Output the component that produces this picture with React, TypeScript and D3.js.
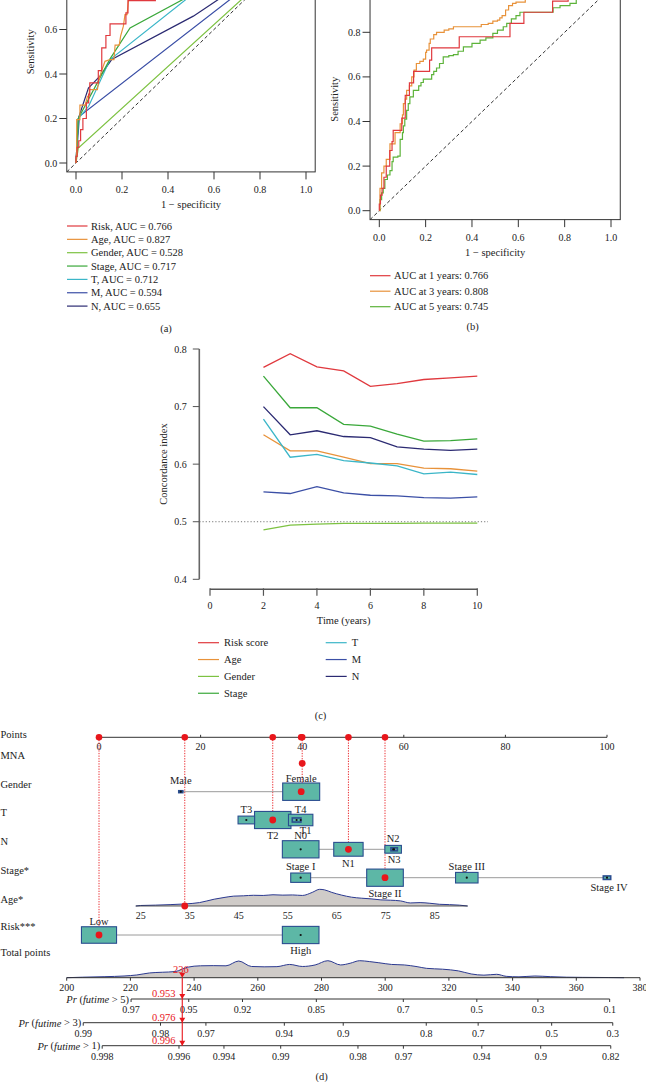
import React from 'react';
import * as d3 from 'd3';

const FONT = '"Liberation Serif", "Times New Roman", serif';

// ---------------- Panel (a): ROC by variable ----------------
const aNames = ['Risk', 'Age', 'Gender', 'Stage', 'T', 'M', 'N'];
const aAUC = [0.766, 0.827, 0.528, 0.717, 0.712, 0.594, 0.655];
const rocRisk = [[0,0],[0,0.03],[0.005,0.03],[0.005,0.07],[0.012,0.07],[0.012,0.1],[0.02,0.1],[0.02,0.15],[0.03,0.15],[0.03,0.2],[0.045,0.2],[0.045,0.27],[0.055,0.27],[0.055,0.31],[0.06,0.31],[0.06,0.36],[0.097,0.36],[0.097,0.415],[0.112,0.415],[0.112,0.517],[0.13,0.517],[0.13,0.573],[0.148,0.573],[0.148,0.625],[0.217,0.625],[0.217,0.675],[0.226,0.675],[0.226,0.73],[0.345,0.73],[0.345,0.78],[0.564,0.78],[0.564,0.84],[0.624,0.84],[0.624,0.89],[0.748,0.89],[0.748,0.94],[0.815,0.94],[0.815,0.97],[0.9,0.97],[0.9,1],[1,1]];
const rocAge = [[0,0],[0.003,0.05],[0.003,0.195],[0.017,0.195],[0.017,0.26],[0.04,0.26],[0.05,0.3],[0.058,0.3],[0.058,0.33],[0.093,0.33],[0.1,0.375],[0.11,0.41],[0.126,0.457],[0.148,0.465],[0.165,0.465],[0.17,0.53],[0.188,0.53],[0.194,0.57],[0.206,0.615],[0.213,0.667],[0.222,0.667],[0.228,0.73],[0.24,0.76],[0.27,0.8],[0.33,0.84],[0.42,0.88],[0.55,0.93],[0.7,0.97],[0.85,0.99],[1,1]];
const rocGender = [[0,0],[0.01,0.067],[0.72,0.735],[1,1]];
const rocStage = [[0,0],[0.01,0.2],[0.148,0.468],[0.235,0.607],[0.465,0.735],[0.75,0.89],[1,1]];
const rocT = [[0,0],[0.01,0.2],[0.055,0.255],[0.148,0.465],[0.478,0.735],[0.8,0.9],[1,1]];
const rocM = [[0,0],[0.015,0.21],[0.67,0.735],[1,1]];
const rocN = [[0,0],[0.01,0.2],[0.054,0.337],[0.104,0.39],[0.155,0.465],[0.51,0.66],[0.619,0.735],[1,1]];

// ---------------- Panel (b): time-dependent ROC ----------------
const bYears = [1, 3, 5];
const bAUC = [0.766, 0.808, 0.745];
const roc1y = rocRisk;
const roc3y = [[0,0],[0.003,0.05],[0.003,0.1],[0.01,0.1],[0.01,0.17],[0.02,0.17],[0.02,0.2],[0.03,0.2],[0.03,0.23],[0.04,0.23],[0.046,0.3],[0.06,0.3],[0.068,0.35],[0.08,0.35],[0.09,0.39],[0.1,0.43],[0.104,0.48],[0.112,0.5],[0.118,0.54],[0.13,0.56],[0.14,0.6],[0.15,0.63],[0.16,0.66],[0.175,0.67],[0.19,0.68],[0.2,0.71],[0.204,0.72],[0.215,0.75],[0.22,0.77],[0.235,0.79],[0.247,0.8],[0.27,0.8],[0.28,0.81],[0.3,0.815],[0.32,0.825],[0.435,0.825],[0.44,0.835],[0.47,0.84],[0.49,0.85],[0.51,0.855],[0.52,0.865],[0.53,0.875],[0.545,0.9],[0.558,0.92],[0.575,0.93],[0.59,0.935],[0.63,0.95],[0.7,0.96],[0.8,0.97],[0.9,0.99],[1,1]];
const roc5y = [[0,0],[0.003,0.05],[0.01,0.08],[0.017,0.1],[0.024,0.14],[0.035,0.16],[0.046,0.18],[0.055,0.22],[0.06,0.24],[0.08,0.245],[0.09,0.32],[0.1,0.35],[0.104,0.38],[0.11,0.41],[0.118,0.45],[0.125,0.48],[0.132,0.51],[0.147,0.54],[0.17,0.56],[0.18,0.575],[0.19,0.59],[0.226,0.61],[0.235,0.625],[0.247,0.64],[0.26,0.66],[0.276,0.69],[0.3,0.695],[0.32,0.7],[0.34,0.715],[0.363,0.735],[0.4,0.75],[0.435,0.765],[0.46,0.775],[0.49,0.795],[0.51,0.81],[0.535,0.825],[0.55,0.84],[0.57,0.86],[0.59,0.875],[0.607,0.89],[0.744,0.89],[0.75,0.91],[0.78,0.92],[0.823,0.93],[0.85,0.95],[0.9,0.97],[0.95,0.99],[1,1]];

const rocTicks = [0, 0.2, 0.4, 0.6, 0.8, 1.0];

// ---------------- Panel (c): C-index over time ----------------
const cTimes = [2, 3, 4, 5, 6, 7, 8, 9, 10];
const cNames = ['Risk score', 'Age', 'Gender', 'Stage', 'T', 'M', 'N'];
const cRisk = [0.768, 0.792, 0.769, 0.762, 0.735, 0.740, 0.747, 0.750, 0.753];
const cAge = [0.651, 0.623, 0.623, 0.612, 0.601, 0.601, 0.593, 0.592, 0.588];
const cGender = [0.486, 0.494, 0.496, 0.497, 0.497, 0.4972, 0.4975, 0.4975, 0.4977];
const cStage = [0.753, 0.698, 0.698, 0.669, 0.666, 0.652, 0.640, 0.641, 0.644];
const cT = [0.678, 0.612, 0.617, 0.606, 0.602, 0.597, 0.583, 0.586, 0.582];
const cM = [0.552, 0.549, 0.561, 0.550, 0.546, 0.545, 0.542, 0.541, 0.543];
const cN = [0.700, 0.651, 0.658, 0.648, 0.646, 0.630, 0.626, 0.624, 0.626];
const cXTicks = [0, 2, 4, 6, 8, 10];
const cYTicks = [0.4, 0.5, 0.6, 0.7, 0.8];

// ---------------- Panel (d): nomogram ----------------
const pointsTicks = [0, 20, 40, 60, 80, 100];
const genderLevels = [{ label: 'Male', pts: 16.1, f: 0.012 }, { label: 'Female', pts: 39.8, f: 1 }];
const tLevels = [{ label: 'T3', pts: 29, f: 0.2 }, { label: 'T2', pts: 34.2, f: 0.97 }, { label: 'T4', pts: 39.7, f: 0.435 }, { label: 'T1', pts: 38.9, f: 0.055 }];
const nLevels = [{ label: 'N0', pts: 39.7, f: 0.98 }, { label: 'N1', pts: 49.1, f: 0.63 }, { label: 'N2', pts: 57.9, f: 0.2 }, { label: 'N3', pts: 58.1, f: 0.03 }];
const stageLevels = [{ label: 'Stage I', pts: 39.7, f: 0.29 }, { label: 'Stage II', pts: 56.3, f: 0.98 }, { label: 'Stage III', pts: 72.4, f: 0.37 }, { label: 'Stage IV', pts: 100, f: 0.04 }];
const riskLevels = [{ label: 'Low', pts: 0, f: 0.9 }, { label: 'High', pts: 39.7, f: 0.98 }];
const ageTicks = [25, 35, 45, 55, 65, 75, 85];
const agePtsAt25 = 8.2;
const agePtsAt85 = 66.1;
const ageDensAge = [24, 25, 28, 31, 34, 37, 40, 42, 44, 46, 48, 50, 52, 54, 56, 58, 60, 61.5, 62.5, 64, 66, 68, 70, 72, 74, 76, 78, 80, 82, 84, 86, 88, 90, 91.7];
const ageDensVal = [0, 0.03, 0.05, 0.08, 0.12, 0.2, 0.4, 0.5, 0.58, 0.6, 0.63, 0.62, 0.66, 0.64, 0.65, 0.62, 0.8, 0.98, 0.95, 0.8, 0.64, 0.52, 0.46, 0.42, 0.36, 0.34, 0.3, 0.18, 0.2, 0.16, 0.1, 0.08, 0.05, 0];
const totalTicks = [200, 220, 240, 260, 280, 300, 320, 340, 360, 380];
const totDensPts = [200, 205, 212, 218, 222, 226, 230, 234, 238, 242, 246, 250, 254, 258, 262, 266, 270, 274, 278, 282, 286, 289, 292, 295, 298, 302, 306, 310, 313, 318, 323, 327, 331, 335, 338, 342, 347, 352, 357, 362, 370, 375];
const totDensVal = [0, 0.03, 0.06, 0.1, 0.16, 0.28, 0.32, 0.36, 0.62, 0.7, 0.71, 0.7, 0.98, 0.66, 0.64, 0.65, 0.78, 0.66, 0.75, 1.0, 0.75, 0.85, 1.0, 0.95, 0.88, 0.78, 0.75, 0.65, 0.55, 0.5, 0.4, 0.22, 0.15, 0.2, 0.08, 0.05, 0.1, 0.06, 0.03, 0.02, 0.01, 0];
// survival model: Pr(T > t) = exp(-exp((points - center_t) / scale))
const survYears = [5, 3, 1];
const survCenter = [341.5, 365, 427];
const survScale = 34.74;
const probTicks5 = [0.97, 0.95, 0.92, 0.85, 0.7, 0.5, 0.3, 0.1];
const probTicks3 = [0.99, 0.98, 0.97, 0.94, 0.9, 0.8, 0.7, 0.5, 0.3];
const probTicks1 = [0.998, 0.996, 0.994, 0.99, 0.98, 0.97, 0.94, 0.9, 0.82];
const selected = { mna: 40, gender: 'Female', t: 'T2', n: 'N1', stage: 'Stage II', age: 34, risk: 'Low' };

// ---------------- styles ----------------
const aColors = ['#e0393e', '#e8923a', '#7dc242', '#3aa83a', '#3bb6c8', '#3b4fa6', '#2b2a72'];
const bColors = ['#e0393e', '#e8923a', '#5db33a'];
const RED = '#e8161b';
const BOX_FILL = '#5db7a6';
const BOX_STROKE = '#2a4d8f';

type Pt = number[];

function RocPanel(props: any) {
  const { x, y, curves, clipId, legendItems, legendColors, legX, legY0, legDy, tag, tagX, tagY } = props;
  const left = x(-0.04), right = x(1.04), top = y(1.04), bottom = y(-0.04);
  return (
    <g>
      <defs>
        <clipPath id={clipId}><rect x={left} y={top} width={right - left} height={bottom - top} /></clipPath>
      </defs>
      <g clipPath={`url(#${clipId})`}>
        <line x1={x(-0.04)} y1={y(-0.04)} x2={x(1.04)} y2={y(1.04)} stroke="#333" strokeDasharray="3.5,2.5" strokeWidth={1} />
        {curves.map((c: any, i: number) => {
          const gen = d3.line<Pt>().x(d => x(d[0])).y(d => y(d[1])).curve(c.curve || d3.curveLinear);
          return <path key={i} d={gen(c.data) || ''} fill="none" stroke={c.color} strokeWidth={1.2} />;
        })}
      </g>
      <rect x={left} y={top} width={right - left} height={bottom - top} fill="none" stroke="#333" strokeWidth={1} />
      {rocTicks.map(t => (
        <g key={'x' + t}>
          <line x1={x(t)} x2={x(t)} y1={bottom} y2={bottom + 7.5} stroke="#333" />
          <text x={x(t)} y={bottom + 17.4} textAnchor="middle" dominantBaseline="central" fontSize={10} fill="#222">{d3.format('.1f')(t)}</text>
        </g>
      ))}
      {rocTicks.filter(t => y(t) > 6).map(t => (
        <g key={'y' + t}>
          <line x1={left} x2={left - 7.5} y1={y(t)} y2={y(t)} stroke="#333" />
          <text x={left - 9.5} y={y(t)} textAnchor="end" dominantBaseline="central" fontSize={10} fill="#222">{d3.format('.1f')(t)}</text>
        </g>
      ))}
      <text x={(left + right) / 2} y={bottom + 33} textAnchor="middle" dominantBaseline="central" fontSize={10.5} fill="#222">1 − specificity</text>
      <text transform={`translate(${left - 36},${(top + bottom) / 2}) rotate(-90)`} textAnchor="middle" dominantBaseline="central" fontSize={10.5} fill="#222">Sensitivity</text>
      {legendItems.map((s: string, i: number) => (
        <g key={'l' + i}>
          <line x1={legX} x2={legX + 20.5} y1={legY0 + i * legDy} y2={legY0 + i * legDy} stroke={legendColors[i]} strokeWidth={1.2} />
          <text x={legX + 24} y={legY0 + i * legDy} dominantBaseline="central" fontSize={10.5} fill="#222">{s}</text>
        </g>
      ))}
      <text x={tagX} y={tagY} textAnchor="middle" dominantBaseline="central" fontSize={10.5} fill="#222">{tag}</text>
    </g>
  );
}

function CIndexPanel() {
  const x = d3.scaleLinear().domain([0, 10]).range([210, 477.3]);
  const y = d3.scaleLinear().domain([0.4, 0.8]).range([579.3, 349]);
  const series = [cRisk, cAge, cGender, cStage, cT, cM, cN];
  const gen = d3.line<number>().x((_, i) => x(cTimes[i])).y(d => y(d));
  const axisX = 199.3;
  const axisY = 589.3;
  return (
    <g>
      <line x1={axisX} x2={488} y1={y(0.5)} y2={y(0.5)} stroke="#777" strokeDasharray="1.2,2" strokeWidth={1} />
      {series.map((s, i) => (
        <path key={i} d={gen(s) || ''} fill="none" stroke={aColors[i]} strokeWidth={1.3} />
      ))}
      <line x1={axisX} x2={axisX} y1={y(0.4)} y2={y(0.8)} stroke="#666" strokeWidth={1.6} />
      {cYTicks.map(t => (
        <g key={t}>
          <line x1={axisX} x2={axisX - 6.5} y1={y(t)} y2={y(t)} stroke="#555" />
          <text x={axisX - 12.5} y={y(t)} textAnchor="end" dominantBaseline="central" fontSize={10} fill="#222">{d3.format('.1f')(t)}</text>
        </g>
      ))}
      <line x1={x(0)} x2={x(10)} y1={axisY} y2={axisY} stroke="#555" strokeWidth={1.6} />
      {cXTicks.map(t => (
        <g key={t}>
          <line x1={x(t)} x2={x(t)} y1={axisY - 1} y2={axisY + 6.5} stroke="#555" strokeWidth={1.2} />
          <text x={x(t)} y={axisY + 16.4} textAnchor="middle" dominantBaseline="central" fontSize={10} fill="#222">{t}</text>
        </g>
      ))}
      <text x={(x(0) + x(10)) / 2} y={620} textAnchor="middle" dominantBaseline="central" fontSize={10.5} fill="#222">Time (years)</text>
      <text transform={`translate(163,464) rotate(-90)`} textAnchor="middle" dominantBaseline="central" fontSize={10.5} fill="#222">Concordance index</text>
      {cNames.map((n, i) => {
        const col = i < 4 ? 0 : 1;
        const row = i < 4 ? i : i - 4;
        const lx = col === 0 ? 198 : 325.7;
        const ly = 642.7 + row * 16.85;
        return (
          <g key={n}>
            <line x1={lx} x2={lx + 21} y1={ly} y2={ly} stroke={aColors[i]} strokeWidth={1.2} />
            <text x={lx + 26} y={ly} dominantBaseline="central" fontSize={10.5} fill="#222">{n}</text>
          </g>
        );
      })}
      <text x={320.5} y={715} textAnchor="middle" dominantBaseline="central" fontSize={10.5} fill="#222">(c)</text>
    </g>
  );
}

function Nomogram() {
  const ptsX = d3.scaleLinear().domain([0, 100]).range([99, 607]);
  const totX = d3.scaleLinear().domain([200, 380]).range([66.7, 640]);
  const agePts = d3.scaleLinear().domain([25, 85]).range([agePtsAt25, agePtsAt85]);
  const bw = d3.scaleSqrt().domain([0, 1]).range([0, 37]);
  const bh = d3.scaleSqrt().domain([0, 1]).range([0, 17.4]);
  const densH = d3.scaleLinear().domain([0, 1]).range([0, 17]);

  const Y = { points: 737.3, mna: 763.3, gender: 791.7, t: 820, n: 849.3, stage: 877.7, age: 906, risk: 935, total: 977.7 };
  const probY = [999, 1022.7, 1045.7];
  const rowLabels = [
    { s: 'Points', y: 734 }, { s: 'MNA', y: 755.5 }, { s: 'Gender', y: 784 }, { s: 'T', y: 812.7 },
    { s: 'N', y: 841.7 }, { s: 'Stage*', y: 870.3 }, { s: 'Age*', y: 899 }, { s: 'Risk***', y: 926.7 },
    { s: 'Total points', y: 952.3 },
  ];
  const labelSide: Record<string, number> = { Male: -1, Female: -1, T3: -1, T2: 1, T4: -1, T1: 1, N0: -1, N1: 1, N2: -1, N3: 1, 'Stage I': -1, 'Stage II': 1, 'Stage III': -1, 'Stage IV': 1, Low: -1, High: 1 };
  const labelDx: Record<string, number> = { T1: 9, 'Stage IV': 2 };

  const catRows = [
    { key: 'gender', y: Y.gender, levels: genderLevels, sel: selected.gender },
    { key: 't', y: Y.t, levels: tLevels, sel: selected.t },
    { key: 'n', y: Y.n, levels: nLevels, sel: selected.n },
    { key: 'stage', y: Y.stage, levels: stageLevels, sel: selected.stage },
    { key: 'risk', y: Y.risk, levels: riskLevels, sel: selected.risk },
  ];

  const selPts: number[] = [selected.mna];
  catRows.forEach(r => { const l = r.levels.find(v => v.label === r.sel); if (l) selPts.push(l.pts); });
  const ageP = agePts(selected.age);
  selPts.push(ageP);
  const total = d3.sum(selPts);

  const guides = [
    { x: ptsX(selected.mna), y2: Y.gender },
    ...catRows.filter(r => r.key !== 'gender').map(r => ({ x: ptsX(r.levels.find(v => v.label === r.sel)!.pts), y2: r.y })),
    { x: ptsX(ageP), y2: Y.age },
  ];

  const ageArea = d3.area<number>().x((_, i) => ptsX(agePts(ageDensAge[i]))).y0(Y.age).y1(d => Y.age - densH(d)).curve(d3.curveMonotoneX);
  const ageLine = d3.line<number>().x((_, i) => ptsX(agePts(ageDensAge[i]))).y(d => Y.age - densH(d)).curve(d3.curveMonotoneX);
  const totArea = d3.area<number>().x((_, i) => totX(totDensPts[i])).y0(Y.total).y1(d => Y.total - densH(d)).curve(d3.curveMonotoneX);
  const totLine = d3.line<number>().x((_, i) => totX(totDensPts[i])).y(d => Y.total - densH(d)).curve(d3.curveMonotoneX);

  const probTickSets = [probTicks5, probTicks3, probTicks1];
  const probToPts = (p: number, k: number) => survCenter[k] + survScale * Math.log(-Math.log(p));
  const ptsToProb = (pts: number, k: number) => Math.exp(-Math.exp((pts - survCenter[k]) / survScale));
  const mx = totX(total);

  const tri = (cx: number, cy: number) => `M${cx - 3},${cy - 5}L${cx + 3},${cy - 5}L${cx},${cy}Z`;

  return (
    <g>
      {rowLabels.map(r => (
        <text key={r.s} x={0.5} y={r.y} dominantBaseline="central" fontSize={10.5} fill="#222">{r.s}</text>
      ))}
      <line x1={ptsX(0)} x2={ptsX(100)} y1={Y.points} y2={Y.points} stroke="#333" strokeWidth={1} />
      {pointsTicks.map(t => (
        <g key={t}>
          <line x1={ptsX(t)} x2={ptsX(t)} y1={Y.points} y2={Y.points - 2.5} stroke="#333" />
          <text x={ptsX(t)} y={Y.points + 9.4} textAnchor="middle" dominantBaseline="central" fontSize={10} fill="#222">{t}</text>
        </g>
      ))}
      {guides.map((g, i) => (
        <line key={i} x1={g.x} x2={g.x} y1={Y.points} y2={g.y2} stroke={RED} strokeWidth={0.9} strokeDasharray="1.3,1.3" />
      ))}
      <path d={ageArea(ageDensVal) || ''} fill="#cfcbc8" />
      <path d={ageLine(ageDensVal) || ''} fill="none" stroke="#2b3990" strokeWidth={1} />
      <line x1={ptsX(agePts(ageDensAge[0]))} x2={ptsX(agePts(ageDensAge[ageDensAge.length - 1]))} y1={Y.age} y2={Y.age} stroke="#333" strokeWidth={0.8} />
      {ageTicks.map(a => (
        <text key={a} x={ptsX(agePts(a))} y={Y.age + 9} textAnchor="middle" dominantBaseline="central" fontSize={10} fill="#222">{a}</text>
      ))}
      {catRows.map(r => {
        const xs = r.levels.map(l => ptsX(l.pts));
        const sorted = [...r.levels].sort((a, b) => b.f - a.f);
        return (
          <g key={r.key}>
            <line x1={d3.min(xs)!} x2={d3.max(xs)!} y1={r.y} y2={r.y} stroke="#9a9a9a" strokeWidth={1} />
            {sorted.map(l => {
              const w = bw(l.f), h = bh(l.f);
              return <rect key={l.label} x={ptsX(l.pts) - w / 2} y={r.y - h / 2} width={w} height={h} fill={BOX_FILL} stroke={BOX_STROKE} strokeWidth={l.f < 0.1 ? 1.6 : 1.1} />;
            })}
            {r.levels.map(l => l.label === r.sel
              ? <circle key={'d' + l.label} cx={ptsX(l.pts)} cy={r.y} r={3.4} fill={RED} />
              : <circle key={'d' + l.label} cx={ptsX(l.pts)} cy={r.y} r={1.1} fill="#111" />)}
            {r.levels.map(l => {
              const h = bh(l.f);
              const side = labelSide[l.label] || -1;
              const ly = side < 0 ? r.y - Math.max(h / 2 + 5, 11) : r.y + Math.max(h / 2 + 7, 10);
              return <text key={'t' + l.label} x={ptsX(l.pts) + (labelDx[l.label] || 0)} y={ly} textAnchor="middle" dominantBaseline="central" fontSize={10.5} fill="#222">{l.label}</text>;
            })}
          </g>
        );
      })}
      <circle cx={ptsX(selected.mna)} cy={Y.mna} r={3.4} fill={RED} />
      <circle cx={ptsX(ageP)} cy={Y.age} r={3.4} fill={RED} />
      {selPts.map((p, i) => (
        <circle key={'pd' + i} cx={ptsX(p)} cy={Y.points} r={3.3} fill={RED} />
      ))}
      <path d={totArea(totDensVal) || ''} fill="#cfcbc8" />
      <path d={totLine(totDensVal) || ''} fill="none" stroke="#2b3990" strokeWidth={1} />
      <line x1={totX(200)} x2={totX(380)} y1={Y.total} y2={Y.total} stroke="#333" strokeWidth={1} />
      {totalTicks.map(t => (
        <g key={t}>
          <line x1={totX(t)} x2={totX(t)} y1={Y.total} y2={Y.total + 3} stroke="#333" />
          <text x={totX(t)} y={Y.total + 9.6} textAnchor="middle" dominantBaseline="central" fontSize={10} fill="#222">{t}</text>
        </g>
      ))}
      {probTickSets.map((ticks, k) => {
        const xs = ticks.map(p => totX(probToPts(p, k)));
        const y = probY[k];
        const x0 = d3.min(xs)!, x1 = d3.max(xs)!;
        return (
          <g key={'pa' + k}>
            <line x1={x0} x2={x1} y1={y} y2={y} stroke="#333" strokeWidth={1} />
            {ticks.map((p, j) => (
              <g key={p}>
                <line x1={xs[j]} x2={xs[j]} y1={y} y2={y + 3} stroke="#333" />
                <text x={xs[j]} y={y + 10.5} textAnchor="middle" dominantBaseline="central" fontSize={10} fill="#222">{String(p)}</text>
              </g>
            ))}
            <text x={x0 - 2} y={y} textAnchor="end" dominantBaseline="central" fontSize={10.5} fill="#222">
              <tspan fontStyle="italic">Pr</tspan> (<tspan fontStyle="italic">futime</tspan> {'>'} {survYears[k]})
            </text>
          </g>
        );
      })}
      <line x1={mx} x2={mx} y1={Y.total} y2={probY[2]} stroke={RED} strokeWidth={1.1} />
      <path d={tri(mx, Y.total)} fill={RED} />
      <text x={mx - 1.5} y={Y.total - 8} textAnchor="middle" dominantBaseline="central" fontSize={10.5} fill={RED}>{Math.round(total)}</text>
      {probY.map((y, k) => (
        <g key={'pm' + k}>
          <path d={tri(mx, y)} fill={RED} />
          <text x={mx - 18.5} y={y - 5.5} textAnchor="middle" dominantBaseline="central" fontSize={10.5} fill={RED}>{ptsToProb(total, k).toFixed(3)}</text>
        </g>
      ))}
      <text x={321.7} y={1076.7} textAnchor="middle" dominantBaseline="central" fontSize={10.5} fill="#222">(d)</text>
    </g>
  );
}

export default function App() {
  const xA = d3.scaleLinear().domain([0, 1]).range([76, 306]);
  const yA = d3.scaleLinear().domain([0, 1]).range([163, -59.5]);
  const xB = d3.scaleLinear().domain([0, 1]).range([379.3, 611]);
  const yB = d3.scaleLinear().domain([0, 1]).range([210.7, -12.3]);
  const aData = [rocRisk, rocAge, rocGender, rocStage, rocT, rocM, rocN];
  const aCurves = aData.map((d, i) => ({ data: d, color: aColors[i] })).reverse();
  const bCurves = [
    { data: roc5y, color: bColors[2], curve: d3.curveStepAfter },
    { data: roc3y, color: bColors[1], curve: d3.curveStepAfter },
    { data: roc1y, color: bColors[0] },
  ];
  return (
    <svg width={646} height={1082} style={{ position: 'absolute', left: 0, top: 0, background: '#fff' }} fontFamily={FONT}>
      <rect width={646} height={1082} fill="#fff" />
      <RocPanel x={xA} y={yA} curves={aCurves} clipId="clipA"
        legendItems={aNames.map((n, i) => `${n}, AUC = ${aAUC[i].toFixed(3)}`)} legendColors={aColors}
        legX={67} legY0={226} legDy={13.35} tag="(a)" tagX={166} tagY={328} />
      <RocPanel x={xB} y={yB} curves={bCurves} clipId="clipB"
        legendItems={bYears.map((yr, i) => `AUC at ${yr} years: ${bAUC[i].toFixed(3)}`)} legendColors={bColors}
        legX={370} legY0={275.7} legDy={15.5} tag="(b)" tagX={472.7} tagY={326.7} />
      <CIndexPanel />
      <Nomogram />
    </svg>
  );
}
